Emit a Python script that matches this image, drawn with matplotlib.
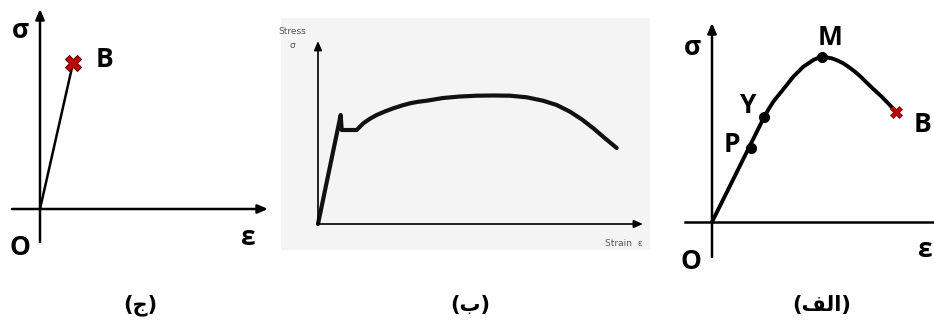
import numpy as np
import matplotlib
matplotlib.use("Agg")
import matplotlib.pyplot as plt

# --- curve data (strain, stress in drawing units, origin at 0,0) ---

# (ج) brittle: straight line up to fracture
brittle_strain = [0, 33]
brittle_stress = [0, 146]

# (ب) low-carbon steel with upper / lower yield point
steel_strain = [0, 22.7, 23.7, 38.7, 45.3, 52, 58.7, 67, 75.3, 84, 92, 100,
                108.7, 125, 142, 158.7, 175, 192, 208.7, 225, 238.7, 252,
                263.7, 275, 287, 298.7]
steel_stress = [0, 109, 94, 94, 100.7, 105.3, 109, 112.6, 115.7, 118.5, 120.7,
                122.2, 123.3, 126, 127.5, 128.3, 128.5, 128.3, 126.7, 123.3,
                119, 112.3, 104.7, 96, 85.7, 76]

# (الف) ductile: O-P-Y linear, M ultimate, B fracture
ductile_strain = [0, 52.3, 57, 61.3, 66, 71.3, 76, 81.3, 86, 91.3, 96, 101.3,
                  105.5, 109.7, 114.5, 119.7, 125.5, 131.3, 137, 143, 149,
                  154.7, 162, 169.7, 177, 184]
ductile_stress = [0, 105.3, 113.5, 120.3, 126.2, 132.7, 138.6, 145.3, 150.0,
                  155.3, 158.4, 162, 163.8, 164.7, 164.6, 163.7, 161.5, 158.7,
                  154.8, 150.3, 145, 139.3, 132.4, 125.3, 117.8, 110.3]
point_names = ["P", "Y", "M"]
point_strain = [39, 52.3, 109.7]
point_stress = [73.7, 105.3, 165.3]

captions = ["(ج)", "(ب)", "(الف)"]

W, H = 934, 326
RED = "#c00000"

# presentation forms: isolated, final, initial, medial
AR_FORMS = {
    "ا": ("\uFE8D", "\uFE8E", None, None),
    "ل": ("\uFEDD", "\uFEDE", "\uFEDF", "\uFEE0"),
    "ف": ("\uFED1", "\uFED2", "\uFED3", "\uFED4"),
    "ب": ("\uFE8F", "\uFE90", "\uFE91", "\uFE92"),
    "ج": ("\uFE9D", "\uFE9E", "\uFE9F", "\uFEA0"),
}


def rtl(text):
    # shape and reorder a short Arabic label for left-to-right layout
    out = []
    for i, ch in enumerate(text):
        if ch not in AR_FORMS:
            out.append({"(": ")", ")": "("}.get(ch, ch))
            continue
        prev = text[i - 1] if i > 0 else ""
        nxt = text[i + 1] if i + 1 < len(text) else ""
        join_prev = prev in AR_FORMS and AR_FORMS[prev][2] is not None
        join_next = nxt in AR_FORMS and AR_FORMS[ch][2] is not None
        isol, fina, init, medi = AR_FORMS[ch]
        if join_prev and join_next:
            out.append(medi)
        elif join_prev:
            out.append(fina)
        elif join_next:
            out.append(init)
        else:
            out.append(isol)
    return "".join(reversed(out))


def panel(fig, box, origin):
    # box = (left, top, right, bottom) in pixels, origin = pixel of (0, 0)
    l, t, r, b = box
    ox, oy = origin
    ax = fig.add_axes([l / W, (H - b) / H, (r - l) / W, (b - t) / H])
    ax.set_xlim(l - ox, r - ox)
    ax.set_ylim(oy - b, oy - t)
    ax.axis("off")
    return ax


def arrow(ax, start, end, lw, scale=10):
    style = "-|>,head_length=0.6,head_width=0.26"
    kw = dict(arrowstyle=style, lw=lw, color="black", shrinkA=0, shrinkB=0,
              mutation_scale=scale)
    ax.annotate("", xy=end, xytext=start, arrowprops=kw)


LAT = dict(family=["Open Sans", "DejaVu Sans"], fontweight="bold",
           fontsize=19, ha="center", va="baseline")

fig = plt.figure(figsize=(W / 100, H / 100), dpi=100)
fig.patch.set_facecolor("white")

# left panel
ax = panel(fig, (0, 0, 280, 280), (40, 209))
arrow(ax, (-28, 0), (228, 0), 1.8)
arrow(ax, (0, -33), (0, 200), 1.8)
ax.plot(brittle_strain, brittle_stress, color="black", lw=1.8,
        solid_capstyle="round")
ax.plot(brittle_strain[-1], brittle_stress[-1], marker="X", ms=12,
        color=RED, mec="#5a0000", mew=0.7)
ax.text(-20, 171, "σ", **LAT)
ax.text(65, 142, "B", **LAT)
ax.text(-20, -46, "O", **LAT)
ax.text(208, -36, "ε", **LAT)

# middle panel (grey scanned figure)
ax = panel(fig, (281, 18, 650, 250), (318, 224))
ax.axis("on")
ax.set_facecolor("#f4f4f4")
for s in ax.spines.values():
    s.set_visible(False)
ax.set_xticks([])
ax.set_yticks([])
arrow(ax, (0, 0), (325, 0), 1.2, 9)
arrow(ax, (0, 0), (0, 183), 1.2, 9)
ax.plot(steel_strain, steel_stress, color="#111111", lw=3,
        solid_joinstyle="round", solid_capstyle="round")
small = dict(family="DejaVu Sans", fontsize=6.5, color="#555555",
             ha="center", va="center")
ax.text(-26, 192, "Stress", **small)
ax.text(-26, 179, "σ", **small)
ax.text(306, -19, "Strain  ε", **small)

# right panel (strain axis runs off the edge)
ax = panel(fig, (660, 0, 934, 280), (712, 222))
ax.plot([-27, 222], [0, 0], color="black", lw=1.8)
arrow(ax, (0, -35), (0, 199), 1.8)
ax.plot(ductile_strain, ductile_stress, color="black", lw=2.8,
        solid_capstyle="round", solid_joinstyle="round")
ax.plot(point_strain, point_stress, "o", color="black", ms=7)
ax.plot(ductile_strain[-1], ductile_stress[-1], marker="X", ms=8,
        color=RED, mec="#7a0000", mew=0.5)
label_pos = {"P": (20, 70), "Y": (36, 109), "M": (118, 177)}
for name in point_names:
    ax.text(*label_pos[name], name, **LAT)
ax.text(210, 90, "B", **LAT)
ax.text(-20, 167, "σ", **LAT)
ax.text(-21, -47, "O", **LAT)
ax.text(213, -35, "ε", **LAT)

# captions under each panel
for cx, cap in zip([140, 470, 822], captions):
    fig.text(cx / W, 1 - 305 / H, rtl(cap), family="DejaVu Sans",
             fontweight="bold", fontsize=15, ha="center", va="center")

fig.savefig("out.png", dpi=100)
